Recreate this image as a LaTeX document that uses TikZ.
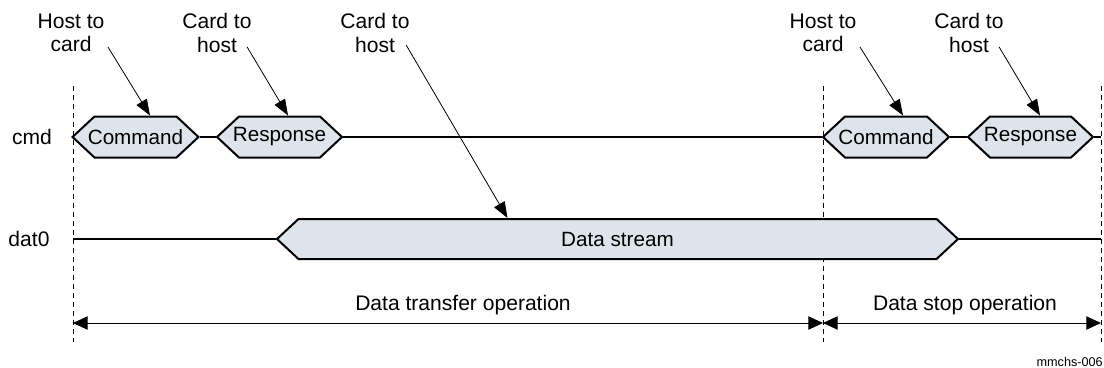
\documentclass[tikz,border=0pt]{standalone}
\usepackage{fontspec}
\setmainfont{Liberation Sans}
\usetikzlibrary{arrows.meta,calc,shapes.symbols}
\definecolor{ink}{RGB}{0,0,0}
\definecolor{busfill}{RGB}{222,228,236}
\def\YCmd{137}
\def\YDat{239}
\def\YOp{323}
\def\XA{73}
\def\XB{823}
\def\XC{1101}
\tikzset{
  bus/.style={
    signal, signal to=west and east, signal pointer angle=86,
    draw=ink, line width=1.5pt, fill=busfill, inner ysep=0pt, inner xsep=-5pt,
    minimum height=30.75pt, minimum width=#1,
    font=\fontsize{15.5}{17.5}\selectfont,
  },
  bus/.default=93.75pt,
  wire/.style={line width=1.5pt, draw=ink},
  lbl/.style={align=center, font=\fontsize{15.8}{17.5}\selectfont, inner sep=1pt},
  call/.style={-{Triangle[length=12pt,width=9pt]}, line width=0.6pt, draw=ink},
  span/.style={{Triangle[length=11pt,width=10pt]}-{Triangle[length=11pt,width=10pt]}, line width=0.75pt, draw=ink},
  guide/.style={dash pattern=on 3.75pt off 3pt, line width=0.6pt, draw=ink},
}

\begin{document}
\begin{tikzpicture}[x=0.75pt,y=-0.75pt]
  \useasboundingbox (0,0) rectangle (1104,368);

  % phase guides
  \foreach \gx/\gn in {\XA/ga,\XB/gb,\XC/gc} {
    \coordinate (\gn t) at (\gx,86);
    \coordinate (\gn b) at (\gx,342);
    \coordinate (\gn o) at (\gx,\YOp);
    \draw[guide] (\gn t) -- (\gn b);
  }

  % cmd line
  \node[lbl] (cmdlbl) at (32,\YCmd) {cmd};
  \node[bus] (cmd1) at (135.5,\YCmd) {Command};
  \node[bus] (rsp1) at (279.5,\YCmd) {Response};
  \node[bus] (cmd2) at (886,\YCmd) {Command};
  \node[bus] (rsp2) at (1030.5,\YCmd) {Response};
  \coordinate (cmdend) at (\XC,\YCmd);
  \draw[wire] (cmd1.east) -- (rsp1.west) (rsp1.east) -- (cmd2.west)
    (cmd2.east) -- (rsp2.west) (rsp2.east) -- (cmdend);

  % dat0 line
  \node[lbl] (datlbl) at (29,\YDat) {dat0};
  \node[bus=510.75pt, minimum height=30pt] (data) at (617.5,\YDat) {Data stream};
  \coordinate (datbeg) at (\XA,\YDat);
  \coordinate (datend) at (\XC,\YDat);
  \draw[wire] (datbeg) -- (data.west) (data.east) -- (datend);

  % direction callouts
  \node[lbl] (hc1) at (71,33) {Host to\\card};
  \node[lbl] (ch1) at (217,33) {Card to\\host};
  \node[lbl] (ch2) at (375,33) {Card to\\host};
  \node[lbl] (hc2) at (823,33) {Host to\\card};
  \node[lbl] (ch3) at (969,33) {Card to\\host};
  \draw[call] ($(hc1.east)+(2,14)$) -- ($(cmd1.north)+(14.5,0)$);
  \draw[call] ($(ch1.east)+(-6,14)$) -- ($(rsp1.north)+(8.5,0)$);
  \draw[call] ($(ch2.east)+(-5,12)$) -- ($(data.north)+(-110,0)$);
  \draw[call] ($(hc2.east)+(2,14)$) -- ($(cmd2.north)+(17,0)$);
  \draw[call] ($(ch3.east)+(-6,14)$) -- ($(rsp2.north)+(9.5,0)$);

  % operations
  \draw[span] (gao) -- (gbo);
  \draw[span] (gbo) -- (gco);
  \node[lbl] (xferlbl) at (463,305) {Data transfer operation};
  \node[lbl] (stoplbl) at (965,305) {Data stop operation};
  \node[anchor=east, inner sep=0pt, font=\fontsize{9.5}{11}\selectfont] (figid) at (1103,362) {mmchs-006};
\end{tikzpicture}
\end{document}
